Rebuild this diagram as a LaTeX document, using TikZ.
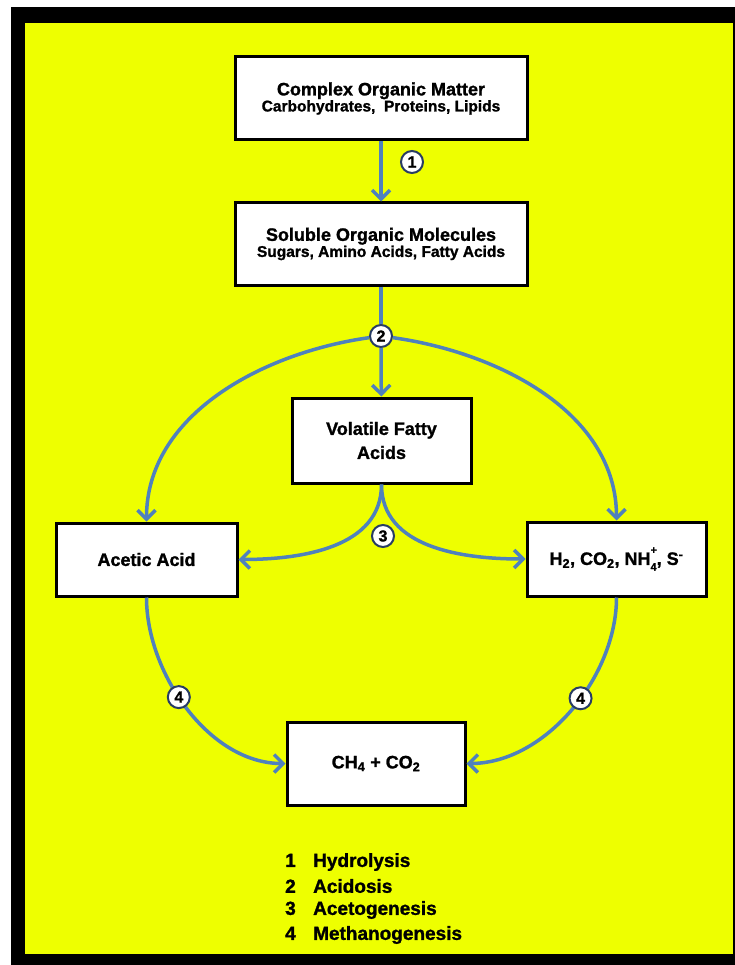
\documentclass[tikz,border=0pt]{standalone}
\usepackage{fontspec}
\setmainfont{Liberation Sans}[BoldFeatures={FakeBold=1.3}]
\usetikzlibrary{arrows.meta}
\definecolor{bgyellow}{RGB}{238,255,0}
\definecolor{arrowblue}{RGB}{79,129,189}
\definecolor{ringblue}{RGB}{40,60,100}
\newcommand{\stacksupsub}[2]{\rlap{\raisebox{0.62em}{\fontsize{11}{11}\selectfont #1}}\raisebox{-0.32em}{\fontsize{11}{11}\selectfont #2}}
\begin{document}
\begin{tikzpicture}[x=1pt,y=1pt,
  box/.style={draw=black, line width=3pt, fill=white, inner sep=2pt, align=center, font=\bfseries},
  arr/.style={draw=arrowblue, line width=3.5pt, -{Straight Barb[length=9pt,width=18pt]}},
  plain/.style={draw=arrowblue, line width=3.5pt},
  numc/.style={circle, draw=ringblue, line width=2pt, fill=white, minimum size=22pt, inner sep=0pt, font=\bfseries\fontsize{16}{16}\selectfont},
  leg/.style={anchor=west, font=\bfseries\fontsize{19}{19}\selectfont, inner sep=0pt}]
\useasboundingbox (0,0) rectangle (735,-965);
\fill[white] (0,0) rectangle (735,-965);
\fill[black] (11,-7) rectangle (735,-965);
\fill[bgyellow] (25,-23) rectangle (733,-954);

\node[box, minimum width=292pt, minimum height=83pt] (box1) at (381,-98.5)
  {\fontsize{18}{20}\selectfont Complex Organic Matter\\\fontsize{15.5}{20}\selectfont Carbohydrates,\ \ Proteins, Lipids};
\node[box, minimum width=292pt, minimum height=82pt] (box2) at (381,-244)
  {\fontsize{18}{20}\selectfont Soluble Organic Molecules\\\fontsize{15.5}{20}\selectfont Sugars, Amino Acids, Fatty Acids};
\node[box, minimum width=179pt, minimum height=85pt, font=\bfseries\fontsize{18}{24}\selectfont] (vfa) at (381.5,-440.5)
  {Volatile Fatty\\Acids};
\node[box, minimum width=181pt, minimum height=73pt, font=\bfseries\fontsize{18}{20}\selectfont] (acetic) at (146.5,-559.5) {Acetic Acid};
\node[box, minimum width=179pt, minimum height=74pt, font=\bfseries\fontsize{18}{20}\selectfont] (h2) at (616.5,-559)
  {H\textsubscript{2}, CO\textsubscript{2}, NH\stacksupsub{+}{4}, S\textsuperscript{-}};
\node[box, minimum width=178pt, minimum height=83pt, font=\bfseries\fontsize{18}{20}\selectfont] (ch4) at (376,-763.5)
  {CH\textsubscript{4} + CO\textsubscript{2}};

\node[numc] (c1) at (412,-162) {1};
\node[numc] (c2) at (381,-336) {2};
\node[numc] (c3) at (383,-536) {3};

\draw[arr] (box1) -- (box2);
\draw[plain] (box2) -- (c2);
\draw[arr] (c2) -- (vfa);
\draw[arr] (c2) to[out=188,in=90,looseness=0.95] (acetic);
\draw[arr] (c2) to[out=-8,in=90,looseness=0.95] (h2);
\draw[arr] (vfa.south) to[out=-90,in=0] (acetic);
\draw[arr] (vfa.south) to[out=-90,in=180] (h2);
\draw[arr] (acetic) to[out=-90,in=180,looseness=0.9] node[numc,pos=0.44] (c4l) {4} (ch4);
\draw[arr] (h2) to[out=-90,in=0,looseness=0.9] node[numc,pos=0.44] (c4r) {4} (ch4);

\node[leg] (l1) at (285,-862) {\makebox[28pt][l]{1}Hydrolysis};
\node[leg] (l2) at (285,-886) {\makebox[28pt][l]{2}Acidosis};
\node[leg] (l3) at (285,-910) {\makebox[28pt][l]{3}Acetogenesis};
\node[leg] (l4) at (285,-935) {\makebox[28pt][l]{4}Methanogenesis};
\end{tikzpicture}
\end{document}
